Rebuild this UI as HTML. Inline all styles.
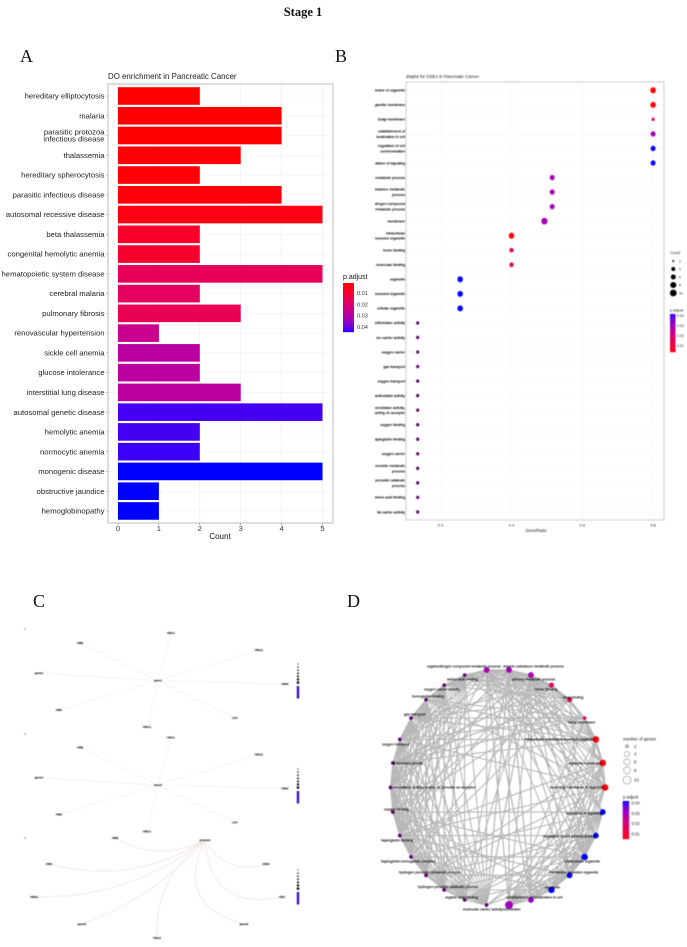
<!DOCTYPE html>
<html lang="en">
<head>
<meta charset="utf-8">
<title>Stage 1 enrichment figure</title>
<style>
html,body{margin:0;padding:0;background:#fff;width:687px;height:947px;overflow:hidden}
svg{display:block;font-family:"Liberation Sans",sans-serif}
.soft{filter:blur(.35px)}
.softer{filter:blur(.4px)}
.serif{font-family:"Liberation Serif",serif}
</style>
</head>
<body>
<svg id="fig" width="687" height="947" viewBox="0 0 687 947">
  <defs>
    <clipPath id="bLabelClip"><rect x="375" y="70" width="40" height="460"/></clipPath>
  </defs>
  <text class="serif" x="303" y="16" font-size="12.5" font-weight="bold" text-anchor="middle" fill="#111">Stage 1</text>
  <text class="serif" x="20" y="62" font-size="18" fill="#111">A</text>
  <text class="serif" x="335" y="62" font-size="18" fill="#111">B</text>
  <text class="serif" x="33" y="607" font-size="18" fill="#111">C</text>
  <text class="serif" x="347" y="607" font-size="18" fill="#111">D</text>

  <g id="chartA" class="soft">
    <text x="108" y="79" font-size="7.9" fill="#222">DO enrichment in Pancreatic Cancer</text>
    <text x="220" y="539" font-size="8" text-anchor="middle" fill="#111">Count</text>
    <text x="343" y="279" font-size="7" fill="#111">p.adjust</text>
  </g>
  <g id="chartB" class="softer">
    <text x="406" y="78" font-size="4.3" fill="#111">dotplot for GSEA in Pancreatic Cancer</text>
    <text x="536" y="532" font-size="4.4" text-anchor="middle" fill="#111">GeneRatio</text>
    <text x="670" y="254" font-size="3.8" fill="#111">Count</text>
    <text x="670" y="311.5" font-size="3.8" fill="#111">p.adjust</text>
  </g>
  <g id="chartC" class="softer"></g>
  <g id="chartD" class="softer">
    <text x="623" y="740.5" font-size="4.4" fill="#111">number of genes</text>
    <text x="623" y="798.5" font-size="4.4" fill="#111">p.adjust</text>
  </g>
</svg>

<script>
var SVGNS = 'http://www.w3.org/2000/svg';
function mk(parent, tag, attrs, txt) {
  var e = document.createElementNS(SVGNS, tag);
  for (var k in attrs) e.setAttribute(k, attrs[k]);
  if (txt !== undefined) e.textContent = txt;
  parent.appendChild(e);
  return e;
}
var P_MIN = 0.001, P_MAX = 0.0445;
function pColor(p) {
  var t = Math.max(0, Math.min(1, (p - P_MIN) / (P_MAX - P_MIN)));
  return 'rgb(' + Math.round(255 * Math.sqrt(1 - Math.pow(t, 1.6))) + ',0,' + Math.round(255 * t) + ')';
}
</script>

<script>
/* Panel A */
var aCategories = ['hereditary elliptocytosis','malaria','parasitic protozoa\ninfectious disease','thalassemia','hereditary spherocytosis','parasitic infectious disease','autosomal recessive disease','beta thalassemia','congenital hemolytic anemia','hematopoietic system disease','cerebral malaria','pulmonary fibrosis','renovascular hypertension','sickle cell anemia','glucose intolerance','interstitial lung disease','autosomal genetic disease','hemolytic anemia','normocytic anemia','monogenic disease','obstructive jaundice','hemoglobinopathy'];
var aCounts = [2,4,4,3,2,4,5,2,2,5,2,3,1,2,2,3,5,2,2,5,1,1];
var aPValues = [0.001,0.0012,0.0015,0.002,0.002,0.003,0.004,0.008,0.009,0.016,0.017,0.015,0.025,0.028,0.028,0.028,0.0425,0.0425,0.043,0.0445,0.0445,0.0445];
var aTicks = [0,1,2,3,4,5];
var aLegendTicks = [0.01,0.02,0.03,0.04];

(function () {
  var g = document.getElementById('chartA');
  function x(v) { return 118 + v * 40.9; }
  function y(i) { return 96 + i * 19.76; }
  function ly(p) { return 293 + (p - 0.01) * 1130; }

  aCategories.forEach(function (c, i) {
    var gl = mk(g, 'line', {x1: 108, x2: 333, y1: y(i), y2: y(i), stroke: '#f3f3f3', 'stroke-width': .7});
    
    
  });
  aTicks.forEach(function (t) {
    var gl = mk(g, 'line', {x1: x(t), x2: x(t), y1: 84, y2: 523, stroke: '#efeff2', 'stroke-width': .8});
    
    
    var tk = mk(g, 'line', {x1: x(t), x2: x(t), y1: 523, y2: 525, stroke: '#555', 'stroke-width': .6});
    
    
    var lb = mk(g, 'text', {x: x(t), y: 531, 'font-size': 7.6, 'text-anchor': 'middle', fill: '#333'}, String(t));
    
    
  });
  aCounts.forEach(function (v, i) {
    var r = mk(g, 'rect', {x: x(0), y: y(i) - 8.8, width: x(v) - x(0), height: 17.6, fill: pColor(aPValues[i])});
    
    
    var tk = mk(g, 'line', {x1: 106.5, x2: 108, y1: y(i), y2: y(i), stroke: '#555', 'stroke-width': .6});
    
    
    var lines = aCategories[i].split('\n');
    lines.forEach(function (ln, k) {
      var off = lines.length > 1 ? (k === 0 ? -3.4 : 3.6) : 0;
      var t = mk(g, 'text', {x: 104.5, y: y(i) + 2.6 + off, 'font-size': 7.7, 'text-anchor': 'end', fill: '#222'}, ln);
      
      
    });
  });
  var frame = mk(g, 'rect', {x: 108, y: 84, width: 225, height: 439, fill: 'none', stroke: '#c9c9c9', 'stroke-width': 1.2});
  
  

  for (var py = 283; py < 332; py++) {
    var p = 0.01 + (py - 293) / 1130;
    var s = mk(g, 'rect', {x: 343, y: py, width: 11, height: 1.2, fill: pColor(p)});
    
    
  }
  aLegendTicks.forEach(function (v) {
    var t = mk(g, 'text', {x: 357, y: ly(v) + 2, 'font-size': 5.6, fill: '#333'}, v.toFixed(2));
    
    
  });
})();
</script>

<script>
/* Panel B */
var bTerms = ['membrane of organelle','organelle membrane','Golgi membrane','establishment of\nlocalization in cell','regulation of cell\ncommunication','regulation of signaling','metabolic process','substance metabolic\nprocess','nitrogen compound\nmetabolic process','membrane','intracellular\nbounded organelle','heme binding','molecular binding','organelle','bounded organelle','cellular organelle','antioxidase activity','ion carrier activity','oxygen carrier','gas transport','oxygen transport','antioxidant activity','peroxidase activity,\nacting on acceptor','oxygen binding','haptoglobin binding','oxygen carrier','peroxide metabolic\nprocess','peroxide catabolic\nprocess','amino acid binding','fat carrier activity'];
var bRatios = [0.8,0.8,0.8,0.8,0.8,0.8,0.515,0.515,0.515,0.493,0.4,0.4,0.4,0.255,0.255,0.255,0.135,0.135,0.135,0.135,0.135,0.135,0.135,0.135,0.135,0.135,0.135,0.135,0.135,0.135];
var bCounts = [6,6,2,5,5,5,5,5,5,7,6,4,4,6,6,6,2,2,2,2,2,2,2,2,2,2,2,2,2,2];
var bPValues = [0.002,0.003,0.018,0.033,0.0445,0.0445,0.032,0.032,0.032,0.032,0.003,0.016,0.016,0.0445,0.0445,0.0445,0.03,0.03,0.03,0.03,0.03,0.03,0.03,0.03,0.03,0.03,0.03,0.03,0.03,0.03];
var bTicks = [0.2,0.4,0.6,0.8];
var bSizeLegend = [2,4,6,8,10];
var bColorLegend = [0.04,0.03,0.02,0.01];

(function () {
  var g = document.getElementById('chartB');
  var labels = mk(g, 'g', {'clip-path': 'url(#bLabelClip)'});
  
  
  function x(v) { return 440.7 + (v - 0.2) * 354; }
  function y(i) { return 90.3 + i * 14.54; }
  function r(c) { return 0.95 + c * 0.3; }
  function py(p) { return 346 - (p - 0.01) * 1000; }

  bTerms.forEach(function (term, i) {
    var gl = mk(g, 'line', {x1: 406, x2: 664, y1: y(i), y2: y(i), stroke: '#f5f5f5', 'stroke-width': .6});
    
    
    var lines = term.split('\n');
    lines.forEach(function (ln, k) {
      var off = lines.length > 1 ? (k === 0 ? -2.7 : 2.7) : 0;
      var t = mk(labels, 'text', {x: 405, y: y(i) + 1.3 + off, 'font-size': 3.7, 'text-anchor': 'end', fill: '#000', stroke: '#000', 'stroke-width': .12}, ln);
      
      
    });
  });
  bTicks.forEach(function (v) {
    var gl = mk(g, 'line', {x1: x(v), x2: x(v), y1: 82, y2: 520, stroke: '#f4f4f4', 'stroke-width': .6});
    
    
    var t = mk(g, 'text', {x: x(v), y: 526.5, 'font-size': 4, 'text-anchor': 'middle', fill: '#222'}, v.toFixed(1));
    
    
  });
  var frame = mk(g, 'rect', {x: 406, y: 82, width: 258, height: 438, fill: 'none', stroke: '#cfcfcf', 'stroke-width': 1.1});
  
  
  bRatios.forEach(function (v, i) {
    var small = bCounts[i] <= 2 && i > 2;
    var c = mk(g, 'ellipse', {cx: x(v), cy: y(i), rx: r(bCounts[i]), ry: r(bCounts[i]) * 1.1, fill: small ? '#5c0070' : pColor(bPValues[i])});
    
    
  });
  bSizeLegend.forEach(function (c, i) {
    var yy = 261 + i * 8;
    var d = mk(g, 'circle', {cx: 673.3, cy: yy, r: [1, 2, 2.5, 3, 3.4][i], fill: '#000'});
    
    
    var t = mk(g, 'text', {x: 679, y: yy + 1.3, 'font-size': 3.4, fill: '#222'}, String(c));
    
    
  });
  for (var yy = 314; yy < 352; yy++) {
    var p = 0.01 + (346 - yy) / 950;
    var s = mk(g, 'rect', {x: 670, y: yy, width: 5.5, height: 1.2, fill: pColor(p)});
    
    
  }
  bColorLegend.forEach(function (v) {
    var t = mk(g, 'text', {x: 677, y: py(v) + 1.2, 'font-size': 3.4, fill: '#222'}, v.toFixed(2));
    
    
  });
})();
</script>

<script>
/* Panel C */
var cGenesTop = ['HBA1','HBB','gene1','HBD','HBG1','CAT','HBM','HBQ1'];
var cAnglesStar = [74.7,154.3,176.4,196.6,256.7,334,358.4,16.8];
var cLengthsStar = [49.2,86.5,119.2,103.3,47.8,85.6,127,105.5];
var cGenesArc = ['HBB','HBD','HBE1','gene2','HBA2','gene3','HBZ','HBM'];
var cAnglesArc = [178.7,188.7,198.4,214.3,243.9,294.9,323.5,338.5];
var cLengthsArc = [90,157.8,180,149,109,92.6,95.8,65.5];
var cBendsArc = [0.27,0.22,0.18,0.13,-0.27,-0.6,-0.57,-0.4];
var cHubNames = ['term1','term2','process'];

(function () {
  var g = document.getElementById('chartC');
  var hubs = [[158,680.5],[158,785],[205,840]];
  function leaf(h, a, l) {
    var t = a * Math.PI / 180;
    return [h[0] + l * Math.cos(t), h[1] - l * Math.sin(t)];
  }
  function label(p, s, name) {
    var t = mk(g, 'text', {x: p[0], y: p[1] + 1, 'font-size': 3.1, 'text-anchor': 'middle', fill: '#000', stroke: '#000', 'stroke-width': .12}, s);
    
    
  }
  [0, 1].forEach(function (n) {
    cAnglesStar.forEach(function (a, i) {
      var p = leaf(hubs[n], a, cLengthsStar[i]);
      var e = mk(g, 'line', {x1: hubs[n][0], y1: hubs[n][1], x2: p[0], y2: p[1], stroke: '#f6f1ee', 'stroke-width': .8});
      
      
      label(p, cGenesTop[i], 'network-gene-label');
    });
  });
  cAnglesArc.forEach(function (a, i) {
    var h = hubs[2];
    var p = leaf(h, a, cLengthsArc[i]);
    var dx = p[0] - h[0], dy = p[1] - h[1];
    var cx = (h[0] + p[0]) / 2 + dy * cBendsArc[i];
    var cy = (h[1] + p[1]) / 2 - dx * cBendsArc[i];
    var e = mk(g, 'path', {d: 'M' + h[0] + ' ' + h[1] + 'Q' + cx + ' ' + cy + ' ' + p[0] + ' ' + p[1], fill: 'none', stroke: '#eee2de', 'stroke-width': .75});
    
    
    label(p, cGenesArc[i], 'network-gene-label');
  });
  hubs.forEach(function (h, i) {
    label(h, cHubNames[i], 'network-hub-label');
    var dot = mk(g, 'circle', {cx: 25, cy: [629, 734, 838][i], r: .7, fill: '#777'});
    
    
    var ly = [663, 768, 869][i];
    for (var k = 0; k < 7; k++) {
      var d = mk(g, 'circle', {cx: 298, cy: ly + 1 + k * 3.1, r: .6 + k * .12, fill: '#111'});
      
      
    }
    var bar = mk(g, 'rect', {x: 296.8, y: ly + 23, width: 2.4, height: 12.5, fill: '#3a10c8'});
    
    
  });
})();
</script>

<script>
/* Panel D */
var dTerms = ['bounding membrane of organelle','organelle membrane','intracellular membrane-bounded organelle','Golgi membrane','drug binding','heme binding','primary metabolic process','organic substance metabolic process','organonitrogen compound metabolic process','amino acid binding','oxygen carrier activity','hemoglobin binding','gas transport','oxygen transport','antioxidant activity','peroxidase activity, acting on peroxide as acceptor','oxygen binding','haptoglobin binding','haptoglobin-hemoglobin complex','hydrogen peroxide metabolic process','hydrogen peroxide catabolic process','organic acid binding','molecular carrier activity','membrane','establishment of localization in cell','organelle','membrane-bounded organelle','intracellular organelle','regulation of cell communication','regulation of signaling'];
var dCounts = [6,6,6,2,4,4,5,5,5,2,2,2,2,2,2,2,2,2,2,2,2,2,2,8,5,6,5,6,5,5];
var dPValues = [0.002,0.002,0.002,0.015,0.016,0.016,0.032,0.032,0.032,0.036,0.036,0.036,0.036,0.036,0.036,0.036,0.036,0.036,0.036,0.036,0.036,0.036,0.036,0.033,0.034,0.0445,0.0445,0.0445,0.0445,0.0445];
var dLabelStart = [550,568,525,568,563,535,512,503,427,447,424,412,404,382,393,393,384,381,381,399,418,445,463,503,506,545,549,565,543,566];
var dLabelRow = [787,763,739,722,697,689,679,666,666,679,689,696,714,744,763,787,809,840,861,872,886.5,897,909,909,897,887,872,861,836,813];
var dCliques = [[9,10,11,12,13,14,15,16,17,18,19,20,21,22],[0,1,2,23,25,26,27],[3,0,1,2],[4,5,3,2],[4,5,6,7,8,9,10],[25,26,27,28,29,24,23]];
var dFanFrom = [[6,7,8],[22,21],[4,5],[28,29],[9,11,13],[16,18,20],[12,14],[17,19],[24,23]];
var dFanTo = [[0,1,2,26,27,22,23,24,17,15,13],[6,7,28,29,26],[14,16,18,27],[6,7,8,23],[0,2,3],[25,27,29],[4,5,2,3],[26,28,0,1],[8,7,3,1]];
var dSizeLegend = [2,4,6,8,10];
var dColorLegend = [0.04,0.03,0.02,0.01];

(function () {
  var g = document.getElementById('chartD');
  function nx(i) { return 497.8 + 107.3 * Math.cos(i * 12 * Math.PI / 180); }
  function ny(i) { return 787.5 - 118.2 * Math.sin(i * 12 * Math.PI / 180); }
  function r(c) { return 1.1 + c * 0.36; }
  function edge(a, b) {
    var e = mk(g, 'line', {x1: nx(a), y1: ny(a), x2: nx(b), y2: ny(b), stroke: '#b7b7b7', 'stroke-width': 1.1});
    
    
  }
  dCliques.forEach(function (q) {
    for (var a = 0; a < q.length; a++) for (var b = a + 1; b < q.length; b++) edge(q[a], q[b]);
  });
  dFanFrom.forEach(function (from, k) {
    from.forEach(function (a) { dFanTo[k].forEach(function (b) { edge(a, b); }); });
  });
  dTerms.forEach(function (term, i) {
    var c = mk(g, 'circle', {cx: nx(i), cy: ny(i), r: r(dCounts[i]), fill: dCounts[i] === 2 && i > 3 ? '#5c0070' : pColor(dPValues[i])});
    
    
  });
  dTerms.forEach(function (term, i) {
    var t = mk(g, 'text', {x: dLabelStart[i], y: dLabelRow[i] + 1.4, 'font-size': 3.7, fill: '#000', stroke: '#000', 'stroke-width': .1}, term);
    
    
  });
  var ys = [746.3, 754, 762, 770.3, 780];
  dSizeLegend.forEach(function (c, i) {
    var d = mk(g, 'circle', {cx: 627, cy: ys[i], r: [1.6, 2.6, 3.1, 3.5, 4][i], fill: i === 0 ? '#bbb' : '#fff', stroke: '#aaa', 'stroke-width': .8});
    
    
    var t = mk(g, 'text', {x: 634, y: ys[i] + 1.6, 'font-size': 4.4, fill: '#222'}, String(c));
    
    
  });
  for (var yy = 801; yy < 839; yy++) {
    var p = 0.01 + (834 - yy) / 950;
    var s = mk(g, 'rect', {x: 622.7, y: yy, width: 6.4, height: 1.2, fill: pColor(p)});
    
    
  }
  dColorLegend.forEach(function (v) {
    var t = mk(g, 'text', {x: 631.5, y: 834 - (v - 0.01) * 1030 + 1.5, 'font-size': 4.2, fill: '#222'}, v.toFixed(2));
    
    
  });
})();
</script>
</body>
</html>
